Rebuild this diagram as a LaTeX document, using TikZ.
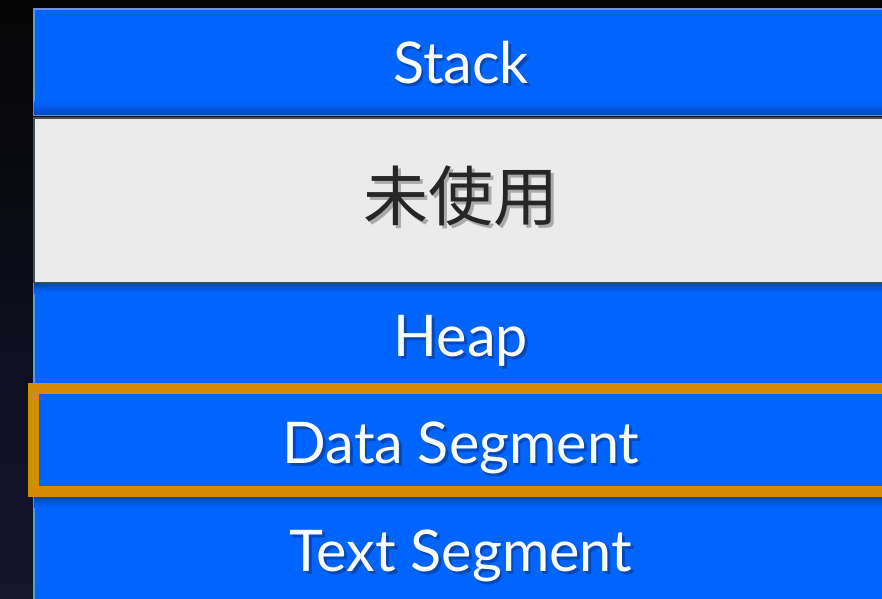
\documentclass[tikz,border=0pt]{standalone}
\usepackage{fontspec}
\setmainfont{Lato}
\newfontfamily\cjk{Noto Sans CJK JP}
\definecolor{segblue}{HTML}{0064FF}
\definecolor{segdark}{HTML}{0048C0}
\definecolor{segedge}{HTML}{6A94DA}
\definecolor{unusedgray}{HTML}{EBEBEB}
\definecolor{grayedge}{HTML}{4A5058}
\definecolor{hiorange}{HTML}{D68A00}
\definecolor{bgtop}{HTML}{050505}
\definecolor{bgbot}{HTML}{151530}
\tikzset{
  seg/.style={draw=segedge, line width=1.5pt, fill=segblue, inner sep=0pt,
    minimum width=857pt, anchor=north west},
  labfont/.style={font=\fontsize{57.5}{58}\selectfont},
  lab/.style={anchor=base, inner sep=0pt, text=white, labfont},
  labshadow/.style={anchor=base, inner sep=0pt, text=black, text opacity=0.28, labfont},
}
\newcommand{\seglabel}[5]{%
  \node[labshadow] (#1sh) at (#2+2.5,#3+3.5) {#4};
  \node[lab, text=#5] (#1) at (#2,#3) {#4};
}
\begin{document}
\begin{tikzpicture}[x=1pt,y=-1pt]
\useasboundingbox (0,0) rectangle (882,598);
\clip (0,0) rectangle (882,598);
\shade[top color=bgtop, bottom color=bgbot] (0,0) rectangle (882,598);
% boxes
\node[seg, minimum height=106pt] (stack) at (33,8) {};
\node[seg, fill=unusedgray, draw=grayedge, line width=2pt, minimum height=165pt] (unused) at (33,116.5) {};
\node[seg, minimum height=106pt] (heap) at (33,283) {};
\node[seg, minimum height=110pt] (text) at (33,497) {};
% shading bands
\shade[top color=segblue, bottom color=segdark] ([xshift=0.75pt,yshift=14pt]stack.south west) rectangle ([xshift=-0.75pt,yshift=0.75pt]stack.south east);
\shade[top color=segdark, bottom color=segblue] ([xshift=0.75pt,yshift=-0.75pt]heap.north west) rectangle ([xshift=-0.75pt,yshift=-10pt]heap.north east);
\shade[top color=segdark, bottom color=segblue] ([xshift=0.75pt,yshift=-0.75pt]text.north west) rectangle ([xshift=-0.75pt,yshift=-10pt]text.north east);
% data segment with highlight
\node[seg, draw=hiorange, line width=11pt, minimum height=103pt] (data) at (28,383) {};
% labels
\seglabel{stacklab}{461}{83}{Stack}{white}
\seglabel{unusedlab}{461}{220}{\cjk\fontsize{65}{65}\selectfont 未使用}{black!85}
\seglabel{heaplab}{461}{356}{Heap}{white}
\seglabel{datalab}{461}{463}{Data Segment}{white}
\seglabel{textlab}{461}{571}{Text Segment}{white}
\end{tikzpicture}
\end{document}
